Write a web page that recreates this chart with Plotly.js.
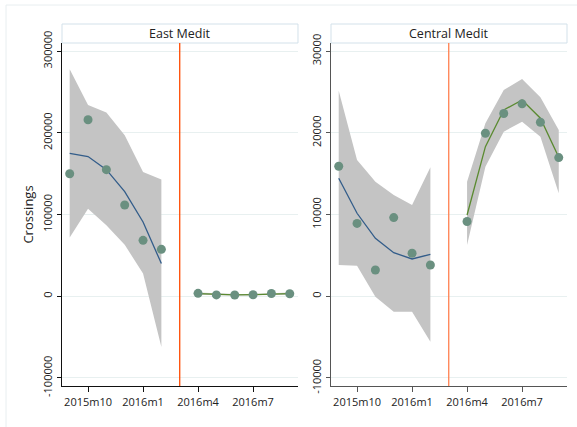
<!DOCTYPE html>
<html>
<head>
<meta charset="utf-8">
<script src="https://cdn.plot.ly/plotly-3.0.1.min.js"></script>
<style>
html,body{margin:0;padding:0;background:#fff;}
#chart{width:577px;height:427px;}
</style>
</head>
<body>
<div id="chart"></div>
<script>
// Month categories
const months = ['2015m9','2015m10','2015m11','2015m12','2016m1','2016m2','2016m3','2016m4','2016m5','2016m6','2016m7','2016m8','2016m9'];
const preMonths = ['2015m9','2015m10','2015m11','2015m12','2016m1','2016m2'];
const postMonths = ['2016m4','2016m5','2016m6','2016m7','2016m8','2016m9'];
const tickMonths = ['2015m10','2016m1','2016m4','2016m7'];
const cutMonth = '2016m3';

// East Mediterranean
const eastPreObs  = [150000, 216000, 155000, 111700, 68500, 57500];
const eastPreFit  = [175000, 171000, 155000, 128000, 91000, 40000];
const eastPreHi   = [278000, 234000, 225000, 197000, 152000, 143000];
const eastPreLo   = [72000, 107000, 87000, 63000, 28000, -62000];
const eastPostObs = [3650, 1721, 1554, 1920, 3447, 3080];
const eastPostFit = [3200, 2200, 1800, 2000, 2700, 3300];
const eastPostHi  = [4500, 3200, 2700, 2900, 3700, 4600];
const eastPostLo  = [1900, 1200, 900, 1100, 1700, 2000];
const eastTicks = [-100000, 0, 100000, 200000, 300000];

// Central Mediterranean
const centPreObs  = [15922, 8916, 3218, 9636, 5273, 3828];
const centPreFit  = [14440, 10160, 7100, 5340, 4570, 5140];
const centPreHi   = [25170, 16680, 14030, 12400, 11180, 15790];
const centPreLo   = [3830, 3750, -50, -1880, -1880, -5560];
const centPostObs = [9149, 19957, 22371, 23552, 21294, 16975];
const centPostFit = [9950, 18310, 22800, 24030, 21790, 17010];
const centPostHi  = [14030, 21180, 25250, 26600, 24360, 20350];
const centPostLo  = [6280, 15860, 20150, 21370, 19530, 12600];
const centTicks = [-10000, 0, 10000, 20000, 30000];

const panelTitles = ['East Medit', 'Central Medit'];
const yTitle = 'Crossings';

const idx = arr => arr.map(m => months.indexOf(m));
const xPre = idx(preMonths), xPost = idx(postMonths);

const bandColor = '#c4c4c4';
const markerColor = '#6a9080';
const blue = '#335d8a', green = '#5a8a30';

function panel(xa, ya, preObs, preFit, preHi, preLo, postObs, postFit, postHi, postLo){
  const t = [];
  const band = (x, lo, hi) => {
    t.push({x:x, y:lo, xaxis:xa, yaxis:ya, mode:'lines', line:{width:0, color:bandColor}, hoverinfo:'skip', showlegend:false});
    t.push({x:x, y:hi, xaxis:xa, yaxis:ya, mode:'lines', line:{width:0, color:bandColor}, fill:'tonexty', fillcolor:bandColor, hoverinfo:'skip', showlegend:false});
  };
  band(xPre, preLo, preHi);
  band(xPost, postLo, postHi);
  t.push({x:xPre, y:preFit, xaxis:xa, yaxis:ya, mode:'lines', line:{color:blue, width:1.3}, showlegend:false});
  t.push({x:xPost, y:postFit, xaxis:xa, yaxis:ya, mode:'lines', line:{color:green, width:1.3}, showlegend:false});
  t.push({x:xPre, y:preObs, xaxis:xa, yaxis:ya, mode:'markers', marker:{color:markerColor, size:9}, showlegend:false});
  t.push({x:xPost, y:postObs, xaxis:xa, yaxis:ya, mode:'markers', marker:{color:markerColor, size:9}, showlegend:false});
  return t;
}

const data = [].concat(
  panel('x','y', eastPreObs, eastPreFit, eastPreHi, eastPreLo, eastPostObs, eastPostFit, eastPostHi, eastPostLo),
  panel('x2','y2', centPreObs, centPreFit, centPreHi, centPreLo, centPostObs, centPostFit, centPostHi, centPostLo)
);

const font = {family:'Open Sans, Noto Sans, sans-serif', size:11, color:'#222'};
const gridColor = '#e8f0f0';

function xaxis(domain, lc){
  return {domain:domain, range:[-0.42, 12.45], showline:true, linecolor:lc, linewidth:1.3,
    ticks:'outside', ticklen:5, tickcolor:lc, tickvals:idx(tickMonths), ticktext:tickMonths,
    showgrid:false, zeroline:false, tickfont:font, fixedrange:true};
}
function yaxis(range, ticks, lc, anchor){
  return {domain:[0,1], range:range, anchor:anchor, showline:true, linecolor:lc, linewidth:1.3,
    ticks:'outside', ticklen:4, tickcolor:lc, tickvals:ticks, ticktext:ticks.map(v => String(v)),
    tickangle:-90, showgrid:true, gridcolor:gridColor, gridwidth:1, zeroline:false, tickfont:font, fixedrange:true};
}

const stripH = 19/343;
const layout = {
  width:577, height:427,
  margin:{l:62, r:10, t:43, b:41},
  paper_bgcolor:'#fff', plot_bgcolor:'#fff',
  font:font,
  showlegend:false,
  xaxis: xaxis([0, 0.4673], '#111'),
  xaxis2: Object.assign(xaxis([0.5327, 1], '#555'), {anchor:'y2'}),
  yaxis: Object.assign(yaxis([-109800, 310000], eastTicks, '#111', 'x'),
    {title:{text:yTitle, font:{family:font.family, size:13, color:'#222'}, standoff:3}}),
  yaxis2: yaxis([-10980, 31000], centTicks, '#555', 'x2'),
  shapes:[
    {type:'rect', xref:'paper', yref:'paper', x0:(6-62)/505, x1:1.05, y0:-0.2, y1:1+38/343,
     line:{color:'#e8eef0', width:1}, fillcolor:'rgba(0,0,0,0)', layer:'below'},
    {type:'rect', xref:'x domain', yref:'paper', x0:0, x1:1, y0:1, y1:1+stripH,
     line:{color:'#d3e1ea', width:1}, fillcolor:'#fff'},
    {type:'rect', xref:'x2 domain', yref:'paper', x0:0, x1:1, y0:1, y1:1+stripH,
     line:{color:'#d3e1ea', width:1}, fillcolor:'#fff'},
    {type:'line', xref:'x', yref:'y domain', x0:months.indexOf(cutMonth), x1:months.indexOf(cutMonth), y0:0, y1:1,
     line:{color:'#ff4a00', width:1.3}},
    {type:'line', xref:'x2', yref:'y2 domain', x0:months.indexOf(cutMonth), x1:months.indexOf(cutMonth), y0:0, y1:1,
     line:{color:'#ff8050', width:1.3}}
  ],
  annotations:[
    {text:panelTitles[0], xref:'x domain', yref:'paper', x:0.5, y:1+stripH/2, showarrow:false,
     font:{family:font.family, size:12.5, color:'#222'}, xanchor:'center', yanchor:'middle'},
    {text:panelTitles[1], xref:'x2 domain', yref:'paper', x:0.5, y:1+stripH/2, showarrow:false,
     font:{family:font.family, size:12.5, color:'#222'}, xanchor:'center', yanchor:'middle'}
  ]
};

Plotly.newPlot('chart', data, layout, {displayModeBar:false, staticPlot:true});
</script>
</body>
</html>
